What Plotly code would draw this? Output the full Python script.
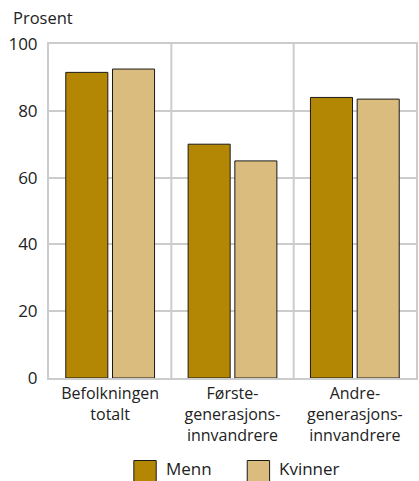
import plotly.graph_objects as go

categories = ["Befolkningen<br>totalt", "Første-<br>generasjons-<br>innvandrere", "Andre-<br>generasjons-<br>innvandrere"]
menn = [91.5, 70, 84]
kvinner = [92.5, 65, 83.5]
y_ticks = [0, 20, 40, 60, 80, 100]
series_names = ["Menn", "Kvinner"]
colors = ["#b38703", "#d9bc7e"]

W, H = 419, 481
ml, mr, mt, mb = 49, 1, 44, 103
pw, ph = W - ml - mr, H - mt - mb

fig = go.Figure()
for name, vals, col in zip(series_names, [menn, kvinner], colors):
    fig.add_trace(go.Bar(
        x=categories, y=vals, name=name,
        marker=dict(color=col, line=dict(color="#1a1a1a", width=1)),
        showlegend=False,
    ))

grid = "#cccccc"
shapes = []
for xv in [0.5, 1.5]:
    shapes.append(dict(type="line", xref="x", yref="y", x0=xv, x1=xv, y0=0, y1=100,
                       line=dict(color=grid, width=2), layer="below"))

annotations = [dict(text="Prosent", xref="paper", yref="paper", x=-(ml - 11) / pw,
                    y=1 + (mt - 18) / ph, xanchor="left", yanchor="middle",
                    showarrow=False, font=dict(size=16.5, color="#222"))]

# legend drawn manually
leg_x = [134.3, 248.3]
txt_x = [164.5, 278]
for name, col, lx, tx in zip(series_names, colors, leg_x, txt_x):
    shapes.append(dict(type="rect", xref="paper", yref="paper",
                       x0=(lx - ml) / pw, x1=(lx + 22.5 - ml) / pw,
                       y0=(mt + ph - 460.5) / ph, y1=(mt + ph - 483) / ph,
                       fillcolor=col, line=dict(color="#1a1a1a", width=1)))
    annotations.append(dict(text=name, xref="paper", yref="paper",
                            x=(tx - ml) / pw, y=(mt + ph - 468.5) / ph,
                            xanchor="left", yanchor="middle", showarrow=False,
                            font=dict(size=17, color="#222")))

fig.update_layout(
    width=W, height=H,
    margin=dict(l=ml, r=mr, t=mt, b=mb),
    paper_bgcolor="white", plot_bgcolor="white",
    font=dict(family="Open Sans, Noto Sans, sans-serif", size=16, color="#222"),
    barmode="group", bargap=0.236, bargroupgap=0.1,
    shapes=shapes, annotations=annotations,
    xaxis=dict(type="category", range=[-0.5, 2.5], showgrid=False,
               showline=True, mirror=True, linecolor=grid, linewidth=2,
               ticks="", tickfont=dict(size=16), ticklabelstandoff=0),
    yaxis=dict(range=[0, 100], tickvals=y_ticks, showgrid=True, gridcolor=grid,
               gridwidth=2, showline=True, mirror=True, linecolor=grid, linewidth=2,
               zeroline=False, ticks="", ticklabelstandoff=6, tickfont=dict(size=17)),
)

fig.write_html("out.html", config={"displayModeBar": False},
               post_script="document.body.style.margin='0';document.body.style.overflow='hidden';")
